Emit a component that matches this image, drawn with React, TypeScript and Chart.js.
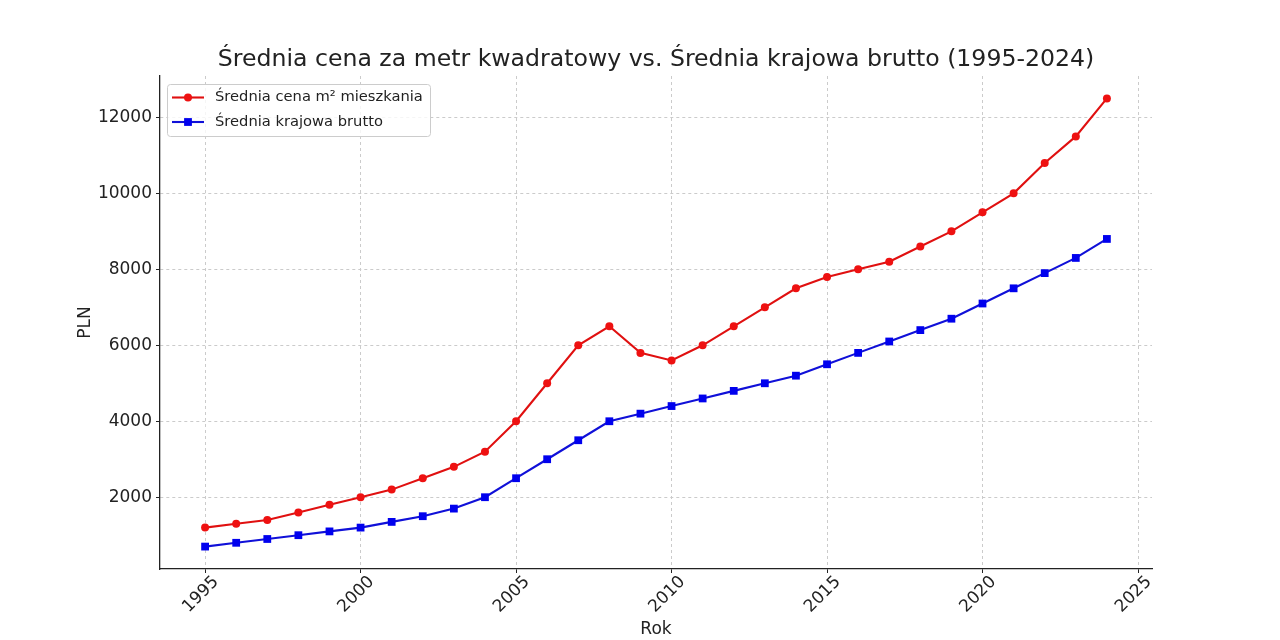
import React, { useEffect, useRef } from "react";
import { Chart, registerables } from "chart.js";

Chart.register(...registerables);

const years = [
  1995, 1996, 1997, 1998, 1999, 2000, 2001, 2002, 2003, 2004,
  2005, 2006, 2007, 2008, 2009, 2010, 2011, 2012, 2013, 2014,
  2015, 2016, 2017, 2018, 2019, 2020, 2021, 2022, 2023, 2024,
];
const pricePerM2 = [
  1200, 1300, 1400, 1600, 1800, 2000, 2200, 2500, 2800, 3200,
  4000, 5000, 6000, 6500, 5800, 5600, 6000, 6500, 7000, 7500,
  7800, 8000, 8200, 8600, 9000, 9500, 10000, 10800, 11500, 12500,
];
const avgSalary = [
  700, 800, 900, 1000, 1100, 1200, 1350, 1500, 1700, 2000,
  2500, 3000, 3500, 4000, 4200, 4400, 4600, 4800, 5000, 5200,
  5500, 5800, 6100, 6400, 6700, 7100, 7500, 7900, 8300, 8800,
];
const xTicks = [1995, 2000, 2005, 2010, 2015, 2020, 2025];
const yTicks = [2000, 4000, 6000, 8000, 10000, 12000];
const seriesLabels = ["Średnia cena m² mieszkania", "Średnia krajowa brutto"];
const titleText =
  "Średnia cena za metr kwadratowy vs. Średnia krajowa brutto (1995-2024)";
const xTitle = "Rok";
const yTitle = "PLN";

const FONT = "'DejaVu Sans', sans-serif";
const TEXT = "#222222";

function margin(values: number[]) {
  const lo = Math.min(...values);
  const hi = Math.max(...values);
  const pad = (hi - lo) * 0.05;
  return { min: lo - pad, max: hi + pad };
}

const axesTitle = {
  id: "axesTitle",
  afterDraw(chart: any) {
    const { ctx, chartArea } = chart;
    ctx.save();
    ctx.fillStyle = TEXT;
    ctx.font = `23.6px ${FONT}`;
    ctx.textAlign = "center";
    ctx.textBaseline = "middle";
    ctx.fillText(titleText, (chartArea.left + chartArea.right) / 2, chartArea.top - 16);
    ctx.restore();
  },
};

const insideLegend = {
  id: "insideLegend",
  afterDatasetsDraw(chart: any) {
    const { ctx, chartArea } = chart;
    const x0 = chartArea.left + 7;
    const y0 = chartArea.top + 8;
    const w = 263;
    const h = 52;
    ctx.save();
    ctx.beginPath();
    (ctx as any).roundRect(x0 + 0.5, y0 + 0.5, w, h, 3);
    ctx.fillStyle = "rgba(255,255,255,0.8)";
    ctx.fill();
    ctx.strokeStyle = "#cccccc";
    ctx.lineWidth = 1;
    ctx.stroke();
    chart.data.datasets.forEach((ds: any, i: number) => {
      const cy = y0 + 13.5 + i * 24.5;
      ctx.beginPath();
      ctx.moveTo(x0 + 5, cy);
      ctx.lineTo(x0 + 37, cy);
      ctx.strokeStyle = ds.borderColor;
      ctx.lineWidth = ds.borderWidth;
      ctx.stroke();
      ctx.fillStyle = ds.pointBackgroundColor;
      if (ds.pointStyle === "rect") {
        ctx.fillRect(x0 + 21 - 3.9, cy - 3.9, 7.8, 7.8);
      } else {
        ctx.beginPath();
        ctx.arc(x0 + 21, cy, 4, 0, Math.PI * 2);
        ctx.fill();
      }
      ctx.fillStyle = TEXT;
      ctx.font = `14.7px ${FONT}`;
      ctx.textBaseline = "middle";
      ctx.textAlign = "left";
      ctx.fillText(ds.label, x0 + 48, cy);
    });
    ctx.restore();
  },
};

const gridOpts = {
  color: "#cbcbcb",
  lineWidth: 1,
  drawTicks: true,
  tickLength: 4,
  tickColor: "#222222",
  tickWidth: 1,
  tickBorderDash: [],
};

const borderOpts = { display: true, color: "#222222", width: 1.3, dash: [3, 3] };

export default function App() {
  const ref = useRef<HTMLCanvasElement | null>(null);

  useEffect(() => {
    if (!ref.current) return;
    const xr = margin(years);
    const yr = margin([...pricePerM2, ...avgSalary]);
    const chart = new Chart(ref.current, {
      type: "line",
      data: {
        datasets: [
          {
            label: seriesLabels[0],
            data: years.map((y, i) => ({ x: y, y: pricePerM2[i] })),
            borderColor: "#e01010",
            backgroundColor: "#ee1111",
            pointBackgroundColor: "#ee1111",
            pointBorderColor: "#ee1111",
            pointStyle: "circle",
            pointRadius: 4,
            pointBorderWidth: 0,
            borderWidth: 2.1,
            tension: 0,
          },
          {
            label: seriesLabels[1],
            data: years.map((y, i) => ({ x: y, y: avgSalary[i] })),
            borderColor: "#1010d8",
            backgroundColor: "#0000ee",
            pointBackgroundColor: "#0000ee",
            pointBorderColor: "#0000ee",
            pointStyle: "rect",
            pointRadius: 5.5,
            pointBorderWidth: 0,
            borderWidth: 2.1,
            tension: 0,
          },
        ],
      },
      options: {
        animation: false,
        responsive: false,
        devicePixelRatio: 1,
        layout: { padding: { left: 0, right: 128, top: 76, bottom: 0 } },
        plugins: {
          legend: { display: false },
          tooltip: { enabled: false },
          title: { display: false },
        },
        scales: {
          x: {
            type: "linear",
            min: xr.min,
            max: xr.max,
            afterBuildTicks: (s: any) => {
              s.ticks = xTicks.map((v) => ({ value: v }));
            },
            afterFit: (s: any) => {
              s.height = 71;
            },
            ticks: {
              autoSkip: false,
              minRotation: 45,
              maxRotation: 45,
              color: TEXT,
              font: { family: FONT, size: 17 },
              padding: -1,
              labelOffset: 11,
              callback: (v: any) => String(v),
            },
            grid: gridOpts,
            border: borderOpts,
            title: {
              display: true,
              text: xTitle,
              color: TEXT,
              font: { family: FONT, size: 17, lineHeight: 1.2 },
              padding: { top: 0, bottom: 0 },
            },
          },
          y: {
            type: "linear",
            min: yr.min,
            max: yr.max,
            afterBuildTicks: (s: any) => {
              s.ticks = yTicks.map((v) => ({ value: v }));
            },
            afterFit: (s: any) => {
              s.width = 160;
            },
            ticks: {
              color: TEXT,
              font: { family: FONT, size: 17 },
              padding: 4,
              callback: (v: any) => String(v),
            },
            grid: gridOpts,
            border: borderOpts,
            title: {
              display: true,
              text: yTitle,
              color: TEXT,
              font: { family: FONT, size: 17, lineHeight: 1.2 },
              padding: { top: 75, bottom: 0 },
            },
          },
        },
      },
      plugins: [insideLegend, axesTitle],
    } as any);
    return () => chart.destroy();
  }, []);

  return (
    <div
      style={{
        position: "fixed",
        left: 0,
        top: 0,
        width: 1280,
        height: 640,
        background: "#ffffff",
      }}
    >
      <canvas ref={ref} width={1280} height={640} />
    </div>
  );
}
